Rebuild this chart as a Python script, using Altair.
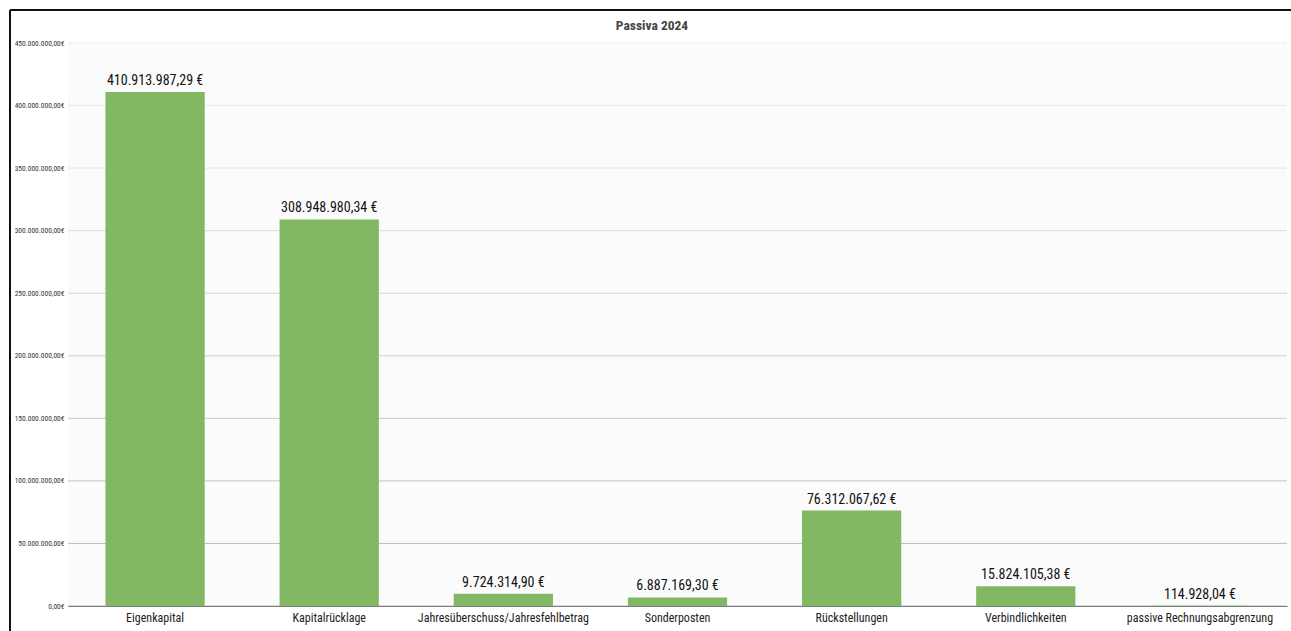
import altair as alt
import pandas as pd

categories = [
    "Eigenkapital",
    "Kapitalrücklage",
    "Jahresüberschuss/Jahresfehlbetrag",
    "Sonderposten",
    "Rückstellungen",
    "Verbindlichkeiten",
    "passive Rechnungsabgrenzung",
]
values = [
    410913987.29,
    308948980.34,
    9724314.90,
    6887169.30,
    76312067.62,
    15824105.38,
    114928.04,
]
y_ticks = [0, 50e6, 100e6, 150e6, 200e6, 250e6, 300e6, 350e6, 400e6, 450e6]
title_text = "Passiva 2024"

FONT = "Liberation Sans Narrow, Arial Narrow, Roboto Condensed, Liberation Sans, sans-serif"

df = pd.DataFrame({"cat": categories, "val": values})
grid_df = pd.DataFrame({"v": y_ticks})
title_df = pd.DataFrame({"t": [title_text]})

W, H = 1219, 563

yscale = alt.Scale(domain=[0, 450e6], nice=False)
yaxis = alt.Axis(
    title=None,
    values=y_ticks,
    grid=False,
    domain=False,
    ticks=False,
    labelFont=FONT,
    labelFontSize=7.5,
    labelColor="#333",
    labelPadding=4,
    labelExpr="format(datum.value, ',.2f') + '€'",
)

grid = alt.Chart(grid_df).mark_rule(strokeWidth=1).encode(
    y=alt.Y("v:Q", scale=yscale, axis=yaxis),
    color=alt.Color("v:Q", scale=alt.Scale(domain=[0, 450e6], range=["#b8b8b8", "#efefef"]), legend=None),
)

bars = alt.Chart(df).mark_bar(color="#82b863").encode(
    x=alt.X(
        "cat:N",
        sort=categories,
        scale=alt.Scale(paddingInner=0.43, paddingOuter=0.215),
        axis=alt.Axis(
            title=None,
            labelAngle=0,
            labelFont=FONT,
            labelFontSize=12,
            labelColor="#222",
            labelPadding=6,
            ticks=False,
            domainColor="#444",
            domainWidth=1.2,
        ),
    ),
    y=alt.Y("val:Q", scale=yscale, axis=yaxis),
)

labels = alt.Chart(df).transform_calculate(
    label="format(datum.val, ',.2f') + ' €'"
).mark_text(
    font=FONT, fontSize=14, color="#111", baseline="bottom", dy=-4
).encode(
    x=alt.X("cat:N", sort=categories),
    y=alt.Y("val:Q", scale=yscale, axis=yaxis),
    text="label:N",
)

title = alt.Chart(title_df).mark_text(
    font=FONT, fontSize=13.5, fontWeight="bold", color="#444", baseline="middle"
).encode(
    x=alt.value(584), y=alt.value(-17), text="t:N"
)

border_left = alt.Chart(grid_df).mark_rule(color="#111", strokeWidth=1.5).encode(
    x=alt.value(-58), y=alt.value(-33), y2=alt.value(H + 30)
)
border_top = alt.Chart(grid_df).mark_rule(color="#111", strokeWidth=1.5).encode(
    x=alt.value(-58), x2=alt.value(W + 10), y=alt.value(-33)
)

chart = alt.layer(grid, bars, labels, title, border_left, border_top).properties(
    width=W,
    height=H,
    autosize=alt.AutoSizeParams(type="none"),
    padding={"left": 68, "top": 43, "right": 4, "bottom": 25},
    background="white",
).resolve_scale(color="independent").configure(
    locale=alt.Locale(
        number=alt.NumberLocale(decimal=",", thousands=".", grouping=[3], currency=["", " €"])
    )
).configure_view(
    strokeWidth=0, fill="#fbfbfb"
)

chart.save("out.html", embed_options={"renderer": "svg", "actions": False})
